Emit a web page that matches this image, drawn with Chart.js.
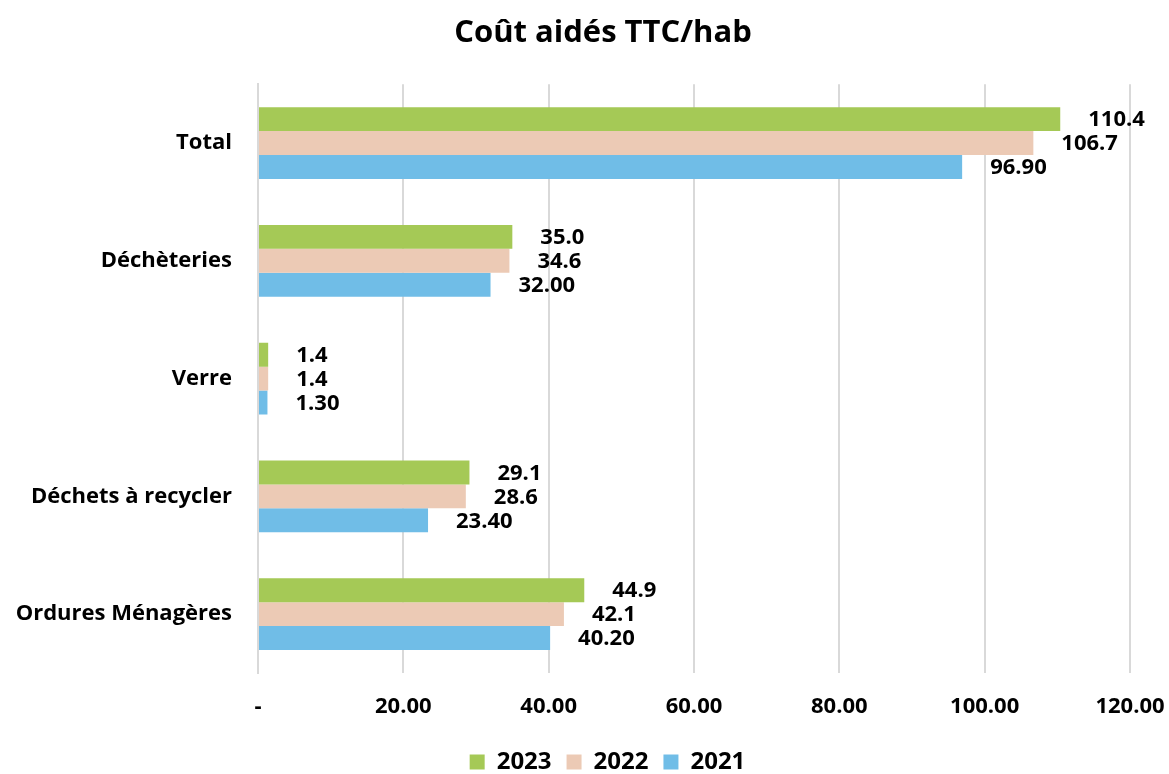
<!DOCTYPE html>
<html>
<head>
<meta charset="utf-8">
<script src="https://cdn.jsdelivr.net/npm/chart.js@4/dist/chart.umd.min.js"></script>
<style>
  html, body { margin: 0; padding: 0; background: #ffffff; }
  #wrap { width: 1169px; height: 774px; position: relative; }
</style>
</head>
<body>
<div id="wrap"><canvas id="chart" width="1169" height="774"></canvas></div>
<script>
// Categories (top to bottom) and yearly series
const categories = ["Total", "Déchèteries", "Verre", "Déchets à recycler", "Ordures Ménagères"];
const years = ["2023", "2022", "2021"];
const values2023 = [110.4, 35.0, 1.4, 29.1, 44.9];
const values2022 = [106.7, 34.6, 1.4, 28.6, 42.1];
const values2021 = [96.90, 32.00, 1.30, 23.40, 40.20];
const labelDecimals = [1, 1, 2];
const xTicks = [0, 20, 40, 60, 80, 100, 120];

const colors = ["#A5C956", "#ECCAB5", "#70BDE7"];
const FONT = "'Open Sans', Lato, sans-serif";
const TEXT_SIZE = 22;

// Value labels written to the right of each bar
const valueLabels = {
  id: "valueLabels",
  afterDatasetsDraw(chart) {
    const ctx = chart.ctx;
    ctx.save();
    ctx.font = "bold " + TEXT_SIZE + "px " + FONT;
    ctx.fillStyle = "#000000";
    ctx.textAlign = "left";
    ctx.textBaseline = "middle";
    chart.data.datasets.forEach((ds, di) => {
      const meta = chart.getDatasetMeta(di);
      meta.data.forEach((bar, i) => {
        const txt = ds.data[i].toFixed(labelDecimals[di]);
        ctx.fillText(txt, bar.x + 28, bar.y + 1);
      });
    });
    ctx.restore();
  }
};

// Title and legend are centred a little right of the canvas centre
const centreBlocks = {
  id: "centreBlocks",
  afterLayout(chart) {
    if (chart.titleBlock) chart.titleBlock.left = 76;
    if (chart.legend) chart.legend.left = 85;
  }
};

new Chart(document.getElementById("chart"), {
  type: "bar",
  data: {
    labels: categories,
    datasets: [
      { label: years[0], data: values2023, backgroundColor: colors[0] },
      { label: years[1], data: values2022, backgroundColor: colors[1] },
      { label: years[2], data: values2021, backgroundColor: colors[2] }
    ]
  },
  options: {
    indexAxis: "y",
    responsive: false,
    animation: false,
    devicePixelRatio: 1,
    layout: { padding: { left: 0, right: 39, top: 0, bottom: 0 } },
    datasets: {
      bar: { categoryPercentage: 0.61, barPercentage: 1.0, borderWidth: 0 }
    },
    plugins: {
      title: {
        display: true,
        text: "Coût aidés TTC/hab",
        color: "#000000",
        font: { family: FONT, size: 31, weight: "bold" },
        padding: { top: 15, bottom: 32 }
      },
      legend: {
        position: "bottom",
        maxHeight: 39,
        labels: {
          color: "#000000",
          font: { family: FONT, size: 24, weight: "bold" },
          boxWidth: 15,
          boxHeight: 15,
          padding: 15
        }
      },
      tooltip: { enabled: false }
    },
    scales: {
      x: {
        min: 0,
        max: 120,
        afterBuildTicks(scale) { scale.ticks = xTicks.map(v => ({ value: v })); },
        afterFit(scale) {
          scale.height = 62;
          scale.paddingLeft = 0;
          scale.paddingRight = 0;
        },
        ticks: {
          color: "#000000",
          font: { family: FONT, size: TEXT_SIZE, weight: "bold" },
          padding: 21,
          maxRotation: 0,
          callback: (v) => v === 0 ? "-" : Number(v).toFixed(2)
        },
        grid: { color: "#D9D9D9", lineWidth: 2, drawTicks: false },
        border: { display: false }
      },
      y: {
        afterFit(scale) { scale.width = 258; },
        ticks: {
          color: "#000000",
          font: { family: FONT, size: TEXT_SIZE, weight: "bold" },
          padding: 26
        },
        grid: { display: false, drawTicks: false },
        border: { display: true, color: "#D9D9D9", width: 2 }
      }
    }
  },
  plugins: [valueLabels, centreBlocks]
});
</script>
</body>
</html>
